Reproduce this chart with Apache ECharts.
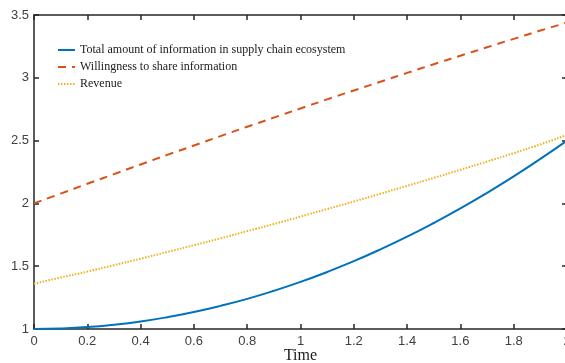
<!DOCTYPE html>
<html>
<head>
<meta charset="utf-8">
<script src="https://cdn.jsdelivr.net/npm/echarts@6/dist/echarts.min.js"></script>
<style>
  html, body { margin: 0; padding: 0; background: #fff; }
  #chart { width: 565px; height: 363px; }
</style>
</head>
<body>
<div id="chart"></div>
<script>
// time steps (x)
const time = [0, 0.1, 0.2, 0.3, 0.4, 0.5, 0.6, 0.7, 0.8, 0.9, 1.0,
  1.1, 1.2, 1.3, 1.4, 1.5, 1.6, 1.7, 1.8, 1.9, 2.0]

// values
const totalInfo = [1, 1.004, 1.015, 1.034, 1.06, 1.094, 1.135, 1.184, 1.24, 1.304, 1.375,
  1.454, 1.54, 1.634, 1.735, 1.844, 1.96, 2.084, 2.215, 2.354, 2.5]
const willingness = [2.0, 2.078, 2.156, 2.233, 2.31, 2.386, 2.461, 2.536, 2.61, 2.683, 2.756,
  2.828, 2.899, 2.969, 3.039, 3.108, 3.176, 3.243, 3.31, 3.376, 3.44]
const revenue = [1.36, 1.41, 1.457, 1.508, 1.56, 1.613, 1.667, 1.722, 1.779, 1.836, 1.895,
  1.955, 2.015, 2.077, 2.14, 2.203, 2.268, 2.333, 2.4, 2.47, 2.545]

const seriesNames = [
  'Total amount of information in supply chain ecosystem',
  'Willingness to share information',
  'Revenue',
]

const axisColor = '#262626'
const tickFont = { color: '#404040', fontFamily: 'Liberation Sans', fontSize: 13 }

const pair = (ys) => time.map((t, i) => [t, ys[i]])

const myChart = echarts.init(document.getElementById('chart'))

const boxAxis = {
  axisLine: { show: true, onZero: false, lineStyle: { color: axisColor, width: 1.5 } },
  axisTick: { show: true, inside: true, length: 5, lineStyle: { color: axisColor, width: 1.5 } },
  splitLine: { show: false },
}

myChart.setOption({
  animation: false,
  backgroundColor: '#fff',
  grid: { left: 34, top: 15, right: -2, bottom: 34, outerBoundsMode: 'none' },
  legend: {
    show: true,
    orient: 'vertical',
    left: 52,
    top: 39,
    itemWidth: 17,
    itemHeight: 10,
    itemGap: 5,
    itemStyle: { opacity: 0 },
    textStyle: { fontFamily: 'Liberation Serif', fontSize: 12, color: '#1a1a1a' },
    data: seriesNames,
  },
  xAxis: [
    {
      ...boxAxis,
      type: 'value',
      min: 0,
      max: 2,
      interval: 0.2,
      name: 'Time',
      nameLocation: 'middle',
      nameGap: 19,
      nameMoveOverlap: false,
      nameTextStyle: { fontFamily: 'Liberation Serif', fontSize: 16, color: '#1a1a1a' },
      axisLabel: { ...tickFont, margin: 6, formatter: (v) => String(+v.toFixed(1)) },
    },
    {
      ...boxAxis,
      type: 'value',
      position: 'top',
      min: 0,
      max: 2,
      interval: 0.2,
      axisLabel: { show: false },
    },
  ],
  yAxis: [
    {
      ...boxAxis,
      type: 'value',
      min: 1,
      max: 3.5,
      interval: 0.5,
      axisLabel: { ...tickFont, margin: 5, formatter: (v) => String(+v.toFixed(1)) },
    },
    {
      ...boxAxis,
      type: 'value',
      position: 'right',
      min: 1,
      max: 3.5,
      interval: 0.5,
      axisLabel: { show: false },
    },
  ],
  series: [
    {
      name: seriesNames[0],
      type: 'line',
      smooth: true,
      symbol: 'none',
      color: '#0072BD',
      lineStyle: { width: 2, type: 'solid' },
      data: pair(totalInfo),
    },
    {
      name: seriesNames[1],
      type: 'line',
      smooth: true,
      symbol: 'none',
      color: '#D95319',
      lineStyle: { width: 2, type: [8, 6] },
      data: pair(willingness),
    },
    {
      name: seriesNames[2],
      type: 'line',
      smooth: true,
      symbol: 'none',
      color: '#EDB120',
      lineStyle: { width: 2, type: [1.5, 1.5] },
      data: pair(revenue),
    },
  ],
})
</script>
</body>
</html>
